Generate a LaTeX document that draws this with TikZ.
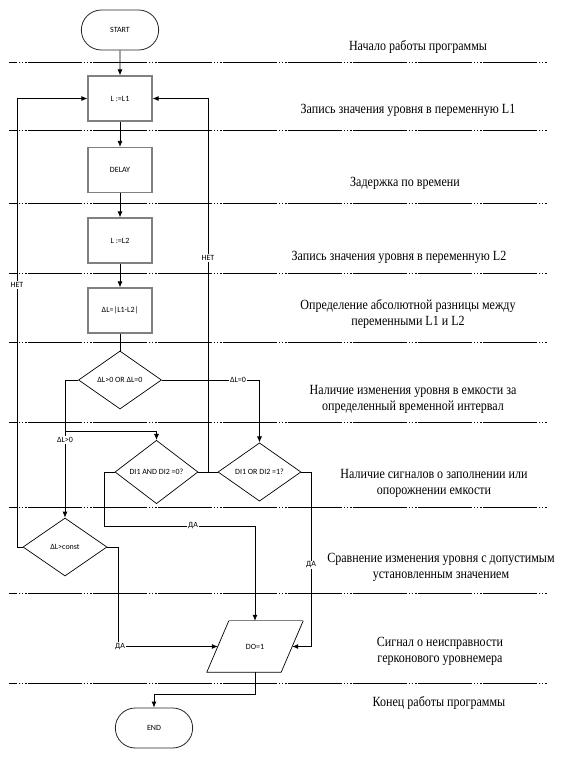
\documentclass[tikz,border=0pt]{standalone}
\usepackage{fontspec}
\setmainfont{Liberation Serif}
\newfontfamily\boxfont{Carlito}
\newfontfamily\notefont[FakeStretch=0.86]{Liberation Serif}
\usetikzlibrary{shapes.geometric,
	shapes.misc,
	arrows.meta,
	positioning,
	calc}

\tikzset{
	term/.style={rounded rectangle, draw=black!85, line width=0.8pt, minimum width=84pt, minimum height=40pt, font=\boxfont\fontsize{8}{9}\selectfont},
	proc/.style={rectangle, draw=black!50, line width=1.2pt, minimum width=64pt, minimum height=45pt, font=\boxfont\fontsize{8}{9}\selectfont},
	cond/.style={diamond, draw, line width=0.7pt, minimum width=83pt, minimum height=58pt, inner sep=1pt, font=\boxfont\fontsize{8}{9}\selectfont},
	io/.style={rectangle, minimum width=74pt, minimum height=51pt, font=\boxfont\fontsize{8}{9}\selectfont},
	lbl/.style={fill=white, inner sep=1pt, font=\boxfont\fontsize{8}{9}\selectfont},
	note/.style={align=center, font=\notefont\fontsize{14}{16}\selectfont},
	sepline/.style={line width=0.8pt, dash pattern=on 52pt off 1.6pt on 1.6pt off 1.6pt on 1.6pt off 1.6pt on 1.6pt off 1.6pt on 1.6pt off 0.2pt, dash phase=44pt},
	flow/.style={->, line width=0.8pt}
}

\begin{document}
\begin{tikzpicture}[x=1pt, y=-1pt, >={Latex[length=6pt,width=5pt]}]
	\useasboundingbox (0,0) rectangle (580,764);
	% section separators
	\foreach \y in {62,130,203,273,342,422,507,593,683}
		\draw[sepline] (9,\y) -- (548,\y);

	% blocks
	\node[term] (start) at (120,30) {START};
	\node[proc] (p1) at (120,98.5) {L :=L1};
	\node[proc] (delay) at (120,170) {DELAY};
	\node[proc] (p2) at (120,240.5) {L :=L2};
	\node[proc] (diff) at (120,310.5) {ΔL=|L1-L2|};
	\node[cond] (d1) at (120,380) {ΔL>0 OR ΔL=0};
	\node[cond] (d2) at (156.5,472) {DI1 AND DI2 =0?};
	\node[cond] (d3) at (259.5,472) {DI1 OR DI2 =1?};
	\node[cond, minimum width=84pt] (d4) at (65,547) {ΔL>const};
	\node[io] (out) at (255,646.5) {DO=1};
	\node[term] (end) at (154,728) {END};
	% parallelogram of the output block
	\draw[line width=0.7pt] ($(out.north east)+(11,0)$) -- ($(out.south east)+(-11,0)$)
		-- ($(out.south west)+(-11,0)$) -- ($(out.north west)+(11,0)$);
	\draw[black!50, line width=1.2pt] ($(out.north west)+(11,0)$) -- ($(out.north east)+(11,0)$);

	% bends
	\coordinate (j1) at (65,431);
	\coordinate (j2) at (208,472);
	\coordinate (jl) at (17,547);
	\coordinate (y2) at (104,526);
	\coordinate (y3) at (311,646.5);
	\coordinate (y4) at (118,646.5);

	% connectors
	\draw[flow] (start) -- (p1);
	\draw[flow] (p1) -- (delay);
	\draw[flow] (delay) -- (p2);
	\draw[flow] (p2) -- (diff);
	\draw[line width=0.8pt] (diff) -- (d1);
	\draw[flow] (d1.west) -| (d4.north);
	\draw[flow] (j1) -| (d2.north);
	\draw[flow] (d1.east) -| (d3.north);
	\draw[line width=0.8pt] (d2.east) -- (d3.west);
	\draw[flow] (j2) |- (p1.east);
	\draw[flow] (d4.west) -- (jl) |- (p1.west);
	\draw[flow] (d2.west) -| (y2) -| (out.north);
	\draw[flow] (d3.east) -| (y3) -- (out.east);
	\draw[flow] (d4.east) -| (y4) -- (out.west);
	\draw[flow] (out.south) -- ++(0,22) -| (end.north);

	% labels
	\node[lbl] (no1) at (208,258) {НЕТ};
	\node[lbl] (no2) at (17,285) {НЕТ};
	\node[lbl] (lt1) at (65,440) {ΔL>0};
	\node[lbl] (eq1) at (238,380) {ΔL=0};
	\node[lbl] (yes1) at (193,526) {ДА};
	\node[lbl] (yes2) at (311,565) {ДА};
	\node[lbl] (yes3) at (120,646.5) {ДА};

	% stage descriptions
	\node[note] (s1) at (418,47) {Начало работы программы};
	\node[note] (s2) at (408,110) {Запись значения уровня в переменную L1};
	\node[note] (s3) at (405,183) {Задержка по времени};
	\node[note] (s4) at (399,257) {Запись значения уровня в переменную L2};
	\node[note] (s5) at (408,314) {Определение абсолютной разницы между\\переменными L1 и L2};
	\node[note] (s6) at (413,399) {Наличие изменения уровня в емкости за\\определенный временной интервал};
	\node[note] (s7) at (434,483) {Наличие сигналов о заполнении или\\опорожнении емкости};
	\node[note] (s8) at (441,567) {Сравнение изменения уровня с допустимым\\установленным значением};
	\node[note] (s9) at (440,651) {Сигнал о неисправности\\герконового уровнемера};
	\node[note] (s10) at (439,703) {Конец работы программы};
\end{tikzpicture}
\end{document}
